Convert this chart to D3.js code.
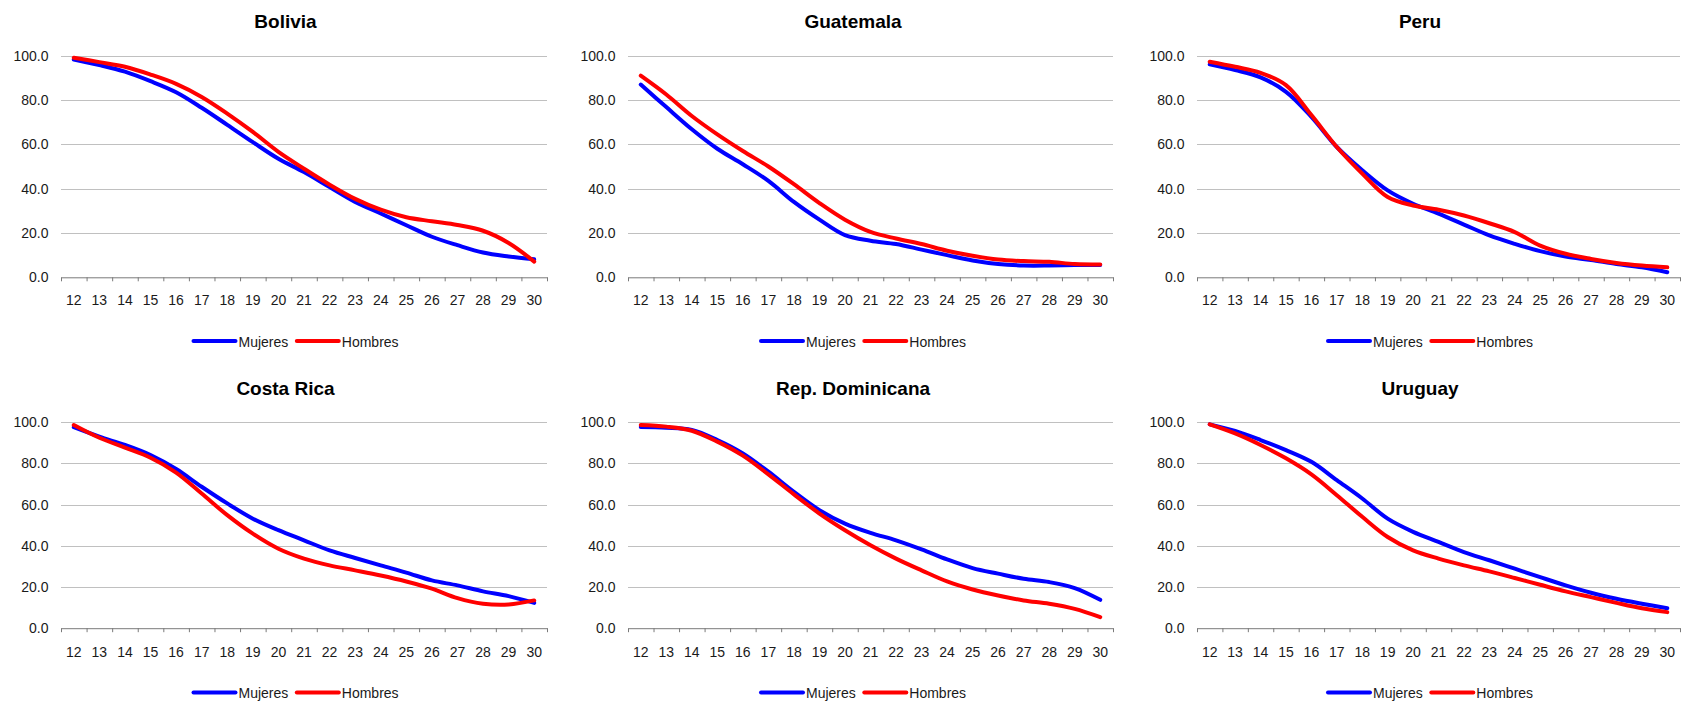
<!DOCTYPE html>
<html>
<head>
<meta charset="utf-8">
<script src="https://cdn.jsdelivr.net/npm/d3@7"></script>
<style>
  html, body { margin: 0; padding: 0; background: #fff; }
  svg { display: block; font-family: "Liberation Sans", Arial, sans-serif; }
</style>
</head>
<body>
<div class="grid"></div>
<script>
// categories (age) and y ticks
const AGES = [12, 13, 14, 15, 16, 17, 18, 19, 20, 21, 22, 23, 24, 25, 26, 27, 28, 29, 30];
const YTICKS = [0, 20, 40, 60, 80, 100];
const SERIES_NAMES = ["Mujeres", "Hombres"];
const COUNTRY_NAMES = ["Bolivia", "Guatemala", "Peru", "Costa Rica", "Rep. Dominicana", "Uruguay"];

// values
const boliviaMujeres = [98.3, 95.8, 92.8, 88.5, 83.5, 76.5, 68.8, 61.0, 53.5, 47.5, 40.7, 34.0, 28.8, 23.5, 18.3, 14.5, 11.2, 9.4, 8.1];
const boliviaHombres = [99.1, 97.1, 95.0, 91.5, 87.3, 81.4, 73.9, 65.6, 56.6, 49.0, 41.8, 35.4, 30.5, 27.1, 25.3, 23.6, 21.0, 15.5, 7.1];
const guatemalaMujeres = [87.0, 76.8, 66.8, 58.0, 51.0, 43.5, 34.0, 26.0, 19.0, 16.5, 15.0, 12.5, 10.0, 7.6, 6.0, 5.3, 5.3, 5.5, 5.5];
const guatemalaHombres = [91.0, 82.5, 72.8, 64.5, 57.0, 50.0, 42.0, 33.5, 26.0, 20.5, 17.5, 15.0, 12.0, 9.7, 8.0, 7.3, 7.0, 6.0, 5.8];
const peruMujeres = [96.1, 93.5, 90.2, 83.7, 72.4, 58.8, 48.3, 39.2, 33.2, 28.7, 23.8, 18.9, 15.1, 11.8, 9.4, 7.8, 6.0, 4.5, 2.3];
const peruHombres = [97.3, 95.0, 92.3, 86.7, 73.2, 58.8, 46.8, 36.2, 32.4, 30.5, 27.9, 24.4, 20.4, 14.3, 10.6, 8.3, 6.5, 5.3, 4.5];
const costaRicaMujeres = [97.6, 93.0, 89.0, 84.1, 77.3, 68.7, 60.6, 53.2, 47.6, 42.7, 37.8, 34.1, 30.5, 27.0, 23.2, 20.8, 17.9, 15.6, 12.3];
const costaRicaHombres = [98.7, 92.5, 87.7, 82.8, 75.6, 65.4, 54.9, 45.9, 38.6, 33.8, 30.5, 28.1, 25.6, 22.7, 19.2, 14.6, 11.9, 11.5, 13.5];
const repDomMujeres = [97.7, 97.4, 96.3, 91.4, 84.9, 76.0, 66.2, 57.3, 50.8, 46.3, 42.7, 38.3, 33.4, 29.2, 26.5, 24.0, 22.4, 19.5, 13.8];
const repDomHombres = [98.7, 97.9, 95.9, 90.6, 83.8, 74.7, 65.0, 55.7, 47.6, 40.3, 33.8, 28.1, 22.7, 18.8, 15.9, 13.5, 11.9, 9.4, 5.4];
const uruguayMujeres = [99.0, 95.8, 91.4, 86.5, 80.8, 71.9, 63.0, 53.2, 46.8, 41.9, 37.0, 33.0, 28.9, 24.8, 20.8, 17.2, 14.3, 11.9, 9.7];
const uruguayHombres = [99.0, 94.6, 89.0, 82.5, 74.7, 64.6, 54.1, 44.3, 37.8, 33.8, 30.5, 27.6, 24.4, 21.1, 17.9, 15.1, 12.3, 9.7, 7.8];

// chart table built from the arrays
const CHARTS = [
  [boliviaMujeres, boliviaHombres],
  [guatemalaMujeres, guatemalaHombres],
  [peruMujeres, peruHombres],
  [costaRicaMujeres, costaRicaHombres],
  [repDomMujeres, repDomHombres],
  [uruguayMujeres, uruguayHombres]
].map((s, i) => ({ name: COUNTRY_NAMES[i], series: s }));

const COLORS = ["#0000ff", "#ff0000"];

// layout of the 3x2 grid
const WIDTH = 1682;
const HEIGHT = 704;
const COLS = [
  { x0: 61, x1: 547, cx: 285.5 },
  { x0: 628, x1: 1113, cx: 853 },
  { x0: 1197, x1: 1680, cx: 1420 }
];
const ROWS = [
  { y0: 55.7, y1: 277.3, titleY: 28, labelY: 305, legendY: 341 },
  { y0: 422.3, y1: 628.2, titleY: 395, labelY: 657, legendY: 692.5 }
];

const svg = d3.select(".grid")
  .append("svg")
  .attr("width", WIDTH)
  .attr("height", HEIGHT);

svg.append("rect").attr("width", WIDTH).attr("height", HEIGHT).attr("fill", "#fff");

CHARTS.forEach((chart, i) => {
  const col = COLS[i % 3];
  const row = ROWS[Math.floor(i / 3)];
  const g = svg.append("g");

  // scales
  const x = d3.scaleBand().domain(AGES).range([col.x0, col.x1]).padding(0);
  const y = d3.scaleLinear().domain([0, 100]).range([row.y1, row.y0]);

  // title
  g.append("text")
    .attr("x", col.cx)
    .attr("y", row.titleY)
    .attr("text-anchor", "middle")
    .style("font-size", "19px")
    .style("font-weight", "bold")
    .attr("fill", "#000")
    .text(chart.name);

  // gridlines + y labels
  const yAxis = g.append("g")
    .attr("transform", `translate(${col.x0},0)`)
    .call(d3.axisLeft(y).tickValues(YTICKS).tickSize(-(col.x1 - col.x0)).tickPadding(12.5).tickFormat(d3.format(".1f")));
  yAxis.select(".domain").remove();
  yAxis.selectAll("line")
    .attr("stroke", "#c0c0c0")
    .attr("shape-rendering", "crispEdges")
    .filter(d => d === 0).remove();
  yAxis.selectAll("text")
    .style("font-size", "14px")
    .style("font-family", "Liberation Sans, Arial, sans-serif")
    .attr("fill", "#1a1a1a");

  // x axis: line and ticks between categories
  const bounds = d3.scaleLinear().domain([0, AGES.length]).range([col.x0, col.x1]);
  const xAxis = g.append("g")
    .attr("transform", `translate(0,${row.y1})`)
    .call(d3.axisBottom(bounds).ticks(AGES.length).tickSize(4).tickSizeOuter(0).tickFormat(""));
  xAxis.select(".domain").attr("stroke", "#7a7a7a");
  xAxis.selectAll("line").attr("stroke", "#7a7a7a");

  // x labels at category centers
  g.selectAll(".xlab")
    .data(AGES)
    .enter()
    .append("text")
    .attr("x", d => x(d) + x.bandwidth() / 2)
    .attr("y", row.labelY)
    .attr("text-anchor", "middle")
    .style("font-size", "14px")
    .attr("fill", "#1a1a1a")
    .text(d => d);

  // smoothed lines
  const line = d3.line()
    .x((d, j) => x(AGES[j]) + x.bandwidth() / 2)
    .y(d => y(d))
    .curve(d3.curveCatmullRom.alpha(0.5));

  chart.series.forEach((vals, k) => {
    g.append("path")
      .datum(vals)
      .attr("fill", "none")
      .attr("stroke", COLORS[k])
      .attr("stroke-width", 4)
      .attr("stroke-linejoin", "round")
      .attr("stroke-linecap", "round")
      .attr("d", line);
  });

  // legend
  const lg = g.append("g").attr("transform", `translate(${col.cx - 92},${row.legendY})`);
  let lx = 0;
  SERIES_NAMES.forEach((name, k) => {
    lg.append("line")
      .attr("x1", lx).attr("x2", lx + 42)
      .attr("y1", 0).attr("y2", 0)
      .attr("stroke", COLORS[k])
      .attr("stroke-width", 4)
      .attr("stroke-linecap", "round");
    const t = lg.append("text")
      .attr("x", lx + 45)
      .attr("y", 5.5)
      .style("font-size", "14px")
      .attr("fill", "#1a1a1a")
      .text(name);
    lx += 45 + t.node().getComputedTextLength() + 8.5;
  });
});
</script>
</body>
</html>
